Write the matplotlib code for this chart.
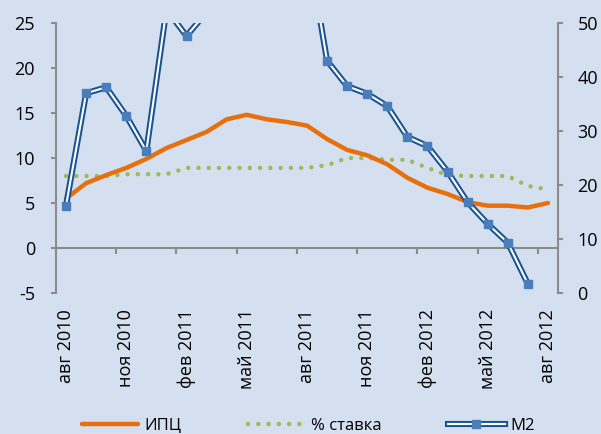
import numpy as np
import matplotlib
matplotlib.use("Agg")
import matplotlib.pyplot as plt
from matplotlib.lines import Line2D
from matplotlib.legend_handler import HandlerTuple

plt.rcParams['font.family'] = ['Open Sans', 'DejaVu Sans']
plt.rcParams['axes.unicode_minus'] = False

months = ["авг 2010", "сен 2010", "окт 2010", "ноя 2010", "дек 2010", "янв 2011",
          "фев 2011", "мар 2011", "апр 2011", "май 2011", "июн 2011", "июл 2011",
          "авг 2011", "сен 2011", "окт 2011", "ноя 2011", "дек 2011", "янв 2012",
          "фев 2012", "мар 2012", "апр 2012", "май 2012", "июн 2012", "июл 2012",
          "авг 2012"]

# ИПЦ, % (left axis)
cpi = [5.5, 7.2, 8.1, 8.9, 9.9, 11.1, 12.0, 12.9, 14.3, 14.8, 14.3, 14.0,
       13.6, 12.1, 10.9, 10.3, 9.3, 7.8, 6.7, 6.0, 5.1, 4.7, 4.7, 4.5, 5.0]

# % ставка (left axis)
rate = [8.0, 8.0, 8.0, 8.2, 8.2, 8.2, 8.9, 8.9, 8.9, 8.9, 8.9, 8.9,
        8.9, 9.2, 10.0, 10.0, 9.8, 9.8, 8.9, 8.1, 8.0, 8.0, 8.0, 6.9, 6.5]

# M2, % (right axis) - values above 50 are off the chart
m2 = [16.2, 37.0, 38.1, 32.8, 26.3, 52.5, 47.6, 52.0, 60, 62, 63, 64,
      65, 43.0, 38.3, 36.9, 34.6, 28.9, 27.2, 22.5, 16.8, 12.8, 9.3, 1.7, np.nan]

bg = '#d4e0ef'
axcol = '#8c8c8c'
orange = '#e8700c'
green = '#9bbb59'
navy = '#1a5490'
blue = '#4a7ebb'
dots = (0, (0.01, 2.3))
x = np.arange(len(months))

fig = plt.figure(figsize=(6.01, 4.34), dpi=100)
fig.patch.set_facecolor(bg)
ax = fig.add_axes([56/601, 1-293/434, (558-56)/601, 270/434])
ax.set_facecolor(bg)
ax2 = ax.twinx()

ax.plot(x, cpi, color=orange, lw=3.2, solid_capstyle='round', zorder=3)
ax.plot(x, rate, color=green, lw=3.2, linestyle=dots, dash_capstyle='round', zorder=2)

ax2.plot(x, m2, color=navy, lw=4.4, zorder=3)
ax2.plot(x, m2, color='white', lw=1.5, zorder=4)
ax2.plot(x, m2, linestyle='none', marker='s', ms=5.2, color=blue, zorder=5)

ax.set_xlim(-0.5, len(months) - 0.5)
ax.set_ylim(-5, 25)
ax.set_yticks(np.arange(-5, 26, 5))
ax2.set_ylim(0, 50)
ax2.set_yticks(np.arange(0, 51, 10))

for s in ['top', 'right']:
    ax.spines[s].set_visible(False)
for s in ['top', 'bottom', 'left']:
    ax2.spines[s].set_visible(False)
ax.spines['left'].set_color(axcol)
ax.spines['left'].set_linewidth(1.5)
ax2.spines['right'].set_color(axcol)
ax2.spines['right'].set_linewidth(1.5)
ax.spines['bottom'].set_position(('data', 0))
ax.spines['bottom'].set_color(axcol)
ax.spines['bottom'].set_linewidth(1.5)

ax.set_xticks(x[::3])
ax.set_xticklabels(months[::3], rotation=90)
ax.set_xticks(np.arange(-0.5, len(months), 3), minor=True)
ax.tick_params(axis='x', which='major', length=0, pad=44, labelsize=13)
ax.tick_params(axis='x', which='minor', length=4, width=1.5, color=axcol)
ax.tick_params(axis='y', length=3.6, width=1.5, color=axcol, labelsize=13, pad=11.5)
ax2.tick_params(axis='y', length=3.6, width=1.5, color=axcol, labelsize=13, pad=10.5)

h_m2 = (Line2D([], [], color=navy, lw=4.4),
        Line2D([], [], color='white', lw=1.5),
        Line2D([], [], linestyle='none', marker='s', ms=5.2, color=blue))
h_cpi = Line2D([], [], color=orange, lw=3.2, solid_capstyle='round')
h_rate = Line2D([], [], color=green, lw=3.2, linestyle=dots, dash_capstyle='round')
fig.legend([h_cpi, h_rate, h_m2], ['ИПЦ', '% ставка', 'M2'],
           handler_map={tuple: HandlerTuple(ndivide=1, pad=0)},
           loc='center', bbox_to_anchor=(0.513, 0.019), ncol=3, frameon=False,
           fontsize=12, handlelength=3.4, handletextpad=0.36, columnspacing=4.0)

fig.savefig('out.png', dpi=100, facecolor=bg)
